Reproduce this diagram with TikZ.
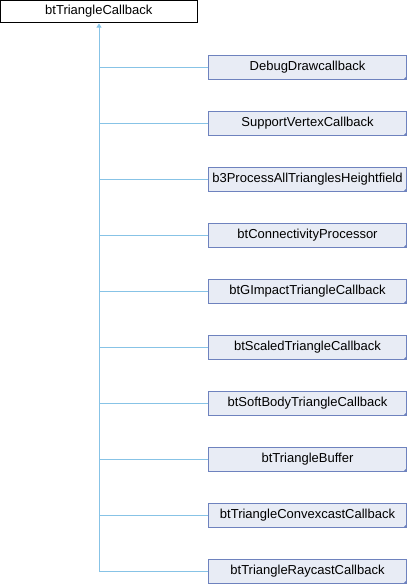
\documentclass[tikz,border=0pt]{standalone}
\usepackage{fontspec}
\setmainfont{Liberation Sans}
\usetikzlibrary{arrows.meta}
\definecolor{boxfill}{RGB}{232,236,245}
\definecolor{boxdraw}{RGB}{110,130,190}
\definecolor{edge}{RGB}{135,195,230}
\tikzset{
  base/.style={draw=black, fill=white, line width=0.8pt, minimum width=197pt, minimum height=22pt, inner sep=0pt, font=\fontsize{13}{15}\selectfont},
  child/.style={draw=boxdraw, fill=boxfill, line width=0.8pt, minimum width=198pt, minimum height=24pt, inner sep=0pt, font=\fontsize{13}{15}\selectfont},
  inh/.style={draw=edge, line width=0.9pt}
}
\begin{document}
\begin{tikzpicture}[x=1pt,y=-1pt]
\useasboundingbox (0,0) rectangle (408,584);
\node[base] (root) at (98.8,11.5) {btTriangleCallback};
\coordinate (trunk) at (99,572);
\foreach \name/\txt [count=\i from 0] in {
  dd/DebugDrawcallback,
  svc/SupportVertexCallback,
  b3p/b3ProcessAllTrianglesHeightfield,
  cp/btConnectivityProcessor,
  gim/btGImpactTriangleCallback,
  stc/btScaledTriangleCallback,
  sbt/btSoftBodyTriangleCallback,
  tb/btTriangleBuffer,
  tcc/btTriangleConvexcastCallback,
  trc/btTriangleRaycastCallback}{
  \node[child] (\name) at (307.5,{67.5+56*\i}) {\txt};
  \draw[inh] (\name.west) -- (99,{67.5+56*\i});
  \fill[boxdraw] (\name.south east) -- ++(-4,0) -- ++(4,-4) -- cycle;
}
\draw[inh,-{Triangle[open,fill=edge,length=4pt,width=5pt]}] (trunk) -- (99,23.5);
\end{tikzpicture}
\end{document}
